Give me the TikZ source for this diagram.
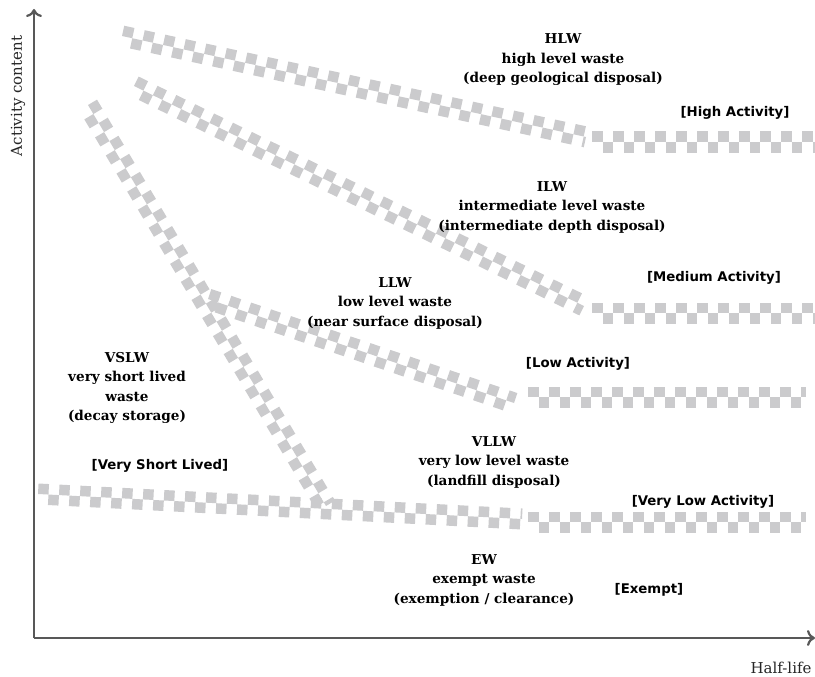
\documentclass[tikz,border=0pt]{standalone}
\usepackage{fontspec}
\setmainfont{DejaVu Serif}
\newfontfamily\tagfont{DejaVu Sans}
\usetikzlibrary{calc,arrows.meta}
\definecolor{checkgray}{RGB}{203,203,205}
\definecolor{axisgray}{RGB}{88,88,88}
\newcommand{\sqside}{10.5pt}
\newcommand{\halfsq}{5.25pt}
\newcommand{\band}[2]{%
	\draw[check] ($(#1)!\halfsq!90:(#2)$) -- ($(#2)!\halfsq!-90:(#1)$);
	\draw[check,dash phase=\sqside] ($(#1)!\halfsq!-90:(#2)$) -- ($(#2)!\halfsq!90:(#1)$);}

\begin{document}
\begin{tikzpicture}[
	x=1pt,y=-1pt,
	check/.style={draw=checkgray,line width=\sqside,dash pattern=on \sqside off \sqside},
	axis/.style={draw=axisgray,line width=2.2pt,-{To[length=8pt,width=16pt]}},
	waste/.style={align=center,font=\bfseries\fontsize{13.6}{19.5}\selectfont},
	tag/.style={font=\tagfont\bfseries\fontsize{13.3}{15}\selectfont},
	axislabel/.style={font=\fontsize{15}{17}\selectfont,text=black!85}
]
	\useasboundingbox (0,0) rectangle (815,677);

	\coordinate (hlwA) at (122,36);
	\coordinate (hlwB) at (586,137);
	\coordinate (hlwC) at (592,142);
	\coordinate (hlwD) at (815,142);
	\coordinate (ilwA) at (134,86);
	\coordinate (ilwB) at (584,306);
	\coordinate (ilwC) at (592,313);
	\coordinate (ilwD) at (815,313);
	\coordinate (vslwA) at (88,105);
	\coordinate (vslwB) at (326,506);
	\coordinate (llwA) at (208,299);
	\coordinate (llwB) at (514,403);
	\coordinate (llwC) at (528,397);
	\coordinate (llwD) at (806,397);
	\coordinate (vllwA) at (38,494);
	\coordinate (vllwB) at (522,519);
	\coordinate (vllwC) at (528,522);
	\coordinate (vllwD) at (806,522);

	\band{hlwA}{hlwB}
	\band{hlwC}{hlwD}
	\band{ilwA}{ilwB}
	\band{ilwC}{ilwD}
	\band{vslwA}{vslwB}
	\band{llwA}{llwB}
	\band{llwC}{llwD}
	\band{vllwA}{vllwB}
	\band{vllwC}{vllwD}

	\coordinate (o) at (34,638);
	\coordinate (ytip) at (34,9);
	\coordinate (xtip) at (815,638);
	\draw[axis] (o) -- (ytip);
	\draw[axis] (o) -- (xtip);
	\node[axislabel,rotate=90] (ylabel) at (18,96) {Activity content};
	\node[axislabel] (xlabel) at (781,668) {Half-life};

	\node[waste] (hlw) at (563,60) {HLW\\high level waste\\(deep geological disposal)};
	\node[waste] (ilw) at (552,207) {ILW\\intermediate level waste\\(intermediate depth disposal)};
	\node[waste] (llw) at (395,303) {LLW\\low level waste\\(near surface disposal)};
	\node[waste] (vslw) at (127,388) {VSLW\\very short lived\\waste\\(decay storage)};
	\node[waste] (vllw) at (494,462) {VLLW\\very low level waste\\(landfill disposal)};
	\node[waste] (ew) at (484,580) {EW\\exempt waste\\(exemption / clearance)};

	\node[tag] (high) at (735,113) {[High Activity]};
	\node[tag] (medium) at (714,278) {[Medium Activity]};
	\node[tag] (low) at (578,364) {[Low Activity]};
	\node[tag] (vshort) at (160,466) {[Very Short Lived]};
	\node[tag] (vlow) at (703,502) {[Very Low Activity]};
	\node[tag] (exempt) at (649,590) {[Exempt]};

\end{tikzpicture}
\end{document}
